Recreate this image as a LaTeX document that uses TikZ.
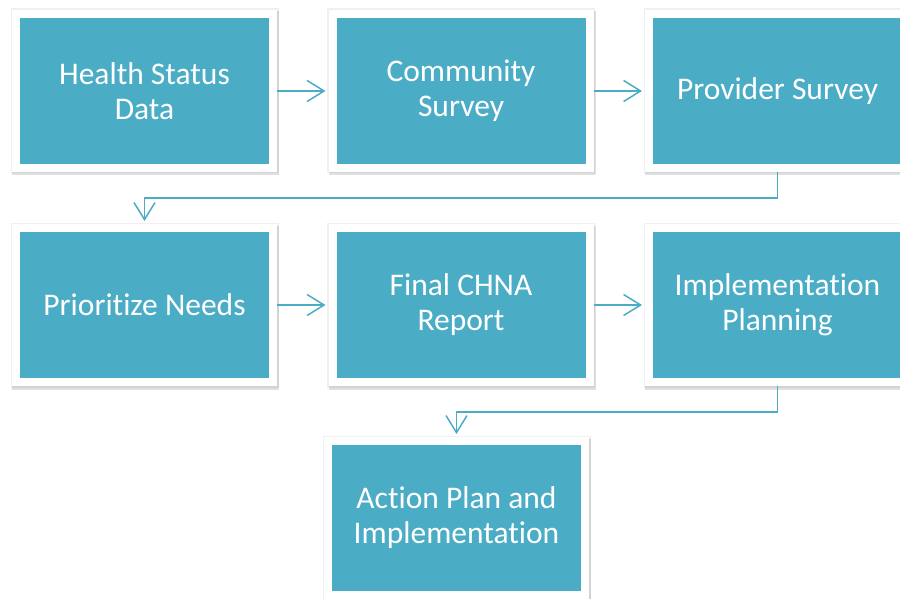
\documentclass[tikz,border=0pt]{standalone}
\usepackage{fontspec}
\setmainfont[RawFeature={-liga;-clig;-calt;-dlig;-ccmp}]{Carlito}
\usetikzlibrary{arrows.meta,shadows}
\definecolor{tealbox}{HTML}{4BACC6}

\begin{document}
\begin{tikzpicture}[x=1pt,y=-1pt,
   stage/.style={rectangle,fill=tealbox,draw=white,line width=8pt,
      minimum width=257pt,minimum height=154pt,outer sep=4pt,
      text=white,align=center,font=\fontsize{31.5}{35}\selectfont,
      drop shadow={shadow xshift=0pt,shadow yshift=0pt,opacity=.06,
         fill=black,draw=black,line width=11pt},
      drop shadow={shadow xshift=1pt,shadow yshift=-2.5pt,opacity=.12,
         fill=black,draw=black,line width=10pt}},
   flow/.style={draw=tealbox,line width=1.5pt,shorten >=3pt,
      -{Straight Barb[length=17pt,width=21pt]}}]
   \useasboundingbox (0,0) rectangle (900,599);
   \clip (0,0) rectangle (900,599);
   \node (hsd) at (144.5,91) [stage] {Health Status\\Data};
   \node (csurvey) at (461,91) [stage] {Community\\Survey};
   \node (psurvey) at (777.5,91) [stage] {Provider Survey};
   \node (prio) at (144.5,305) [stage] {Prioritize Needs};
   \node (report) at (461,305) [stage] {Final CHNA\\Report};
   \node (plan) at (777.5,305) [stage] {Implementation\\Planning};
   \node (action) at (456.5,518) [stage] {Action Plan and\\Implementation};
   \draw[flow] (hsd) -- (csurvey);
   \draw[flow] (csurvey) -- (psurvey);
   \draw[flow] (psurvey.south) -- ++(0,26) -| (prio.north);
   \draw[flow] (prio) -- (report);
   \draw[flow] (report) -- (plan);
   \draw[flow] (plan.south) -- ++(0,26) -| (action.north);
\end{tikzpicture}
\end{document}
